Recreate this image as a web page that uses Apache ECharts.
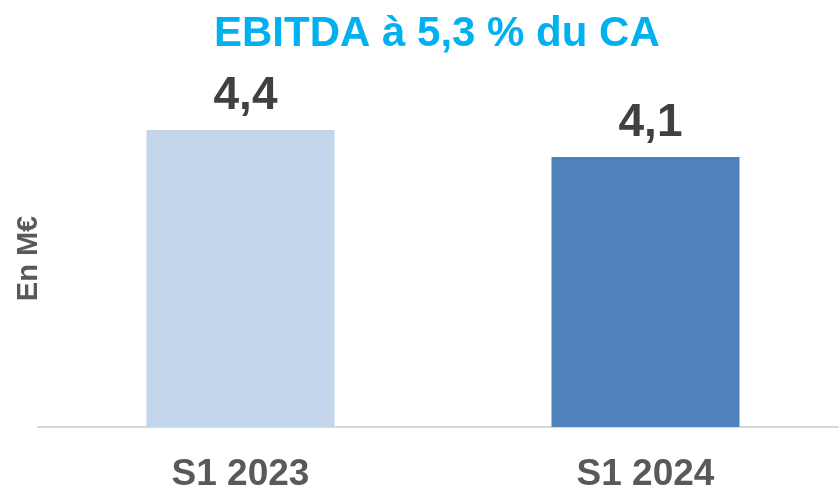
<!DOCTYPE html>
<html>
<head>
<meta charset="utf-8">
<title>EBITDA</title>
<script src="https://cdn.jsdelivr.net/npm/echarts@6/dist/echarts.min.js"></script>
<style>
  html, body { margin: 0; padding: 0; background: #fff; }
  #myChart { width: 839px; height: 487px; }
</style>
</head>
<body>
<div id="myChart"></div>
<script>
// data
const categories = ['S1 2023', 'S1 2024']
const ebitdaValues = [4.4, 4.1]
const barColors = ['#C3D5EA', '#4F81BD']

let myChart = echarts.init(document.getElementById('myChart'))
let options = {
  animation: false,
  title: {
    text: 'EBITDA à 5,3 % du CA',
    left: 209,
    top: 8,
    textStyle: {
      fontFamily: 'Liberation Sans',
      fontSize: 42,
      fontWeight: 'bold',
      color: '#00B0F0'
    }
  },
  grid: {
    left: 38,
    right: -9,
    top: 76,
    bottom: 60,
    containLabel: false,
    outerBoundsMode: 'none'
  },
  xAxis: {
    type: 'category',
    data: categories,
    axisTick: { show: false },
    axisLine: {
      lineStyle: { color: '#D9D9D9', width: 2 }
    },
    axisLabel: {
      margin: 29,
      fontFamily: 'Liberation Sans',
      fontSize: 37,
      fontWeight: 'bold',
      color: '#595959'
    }
  },
  yAxis: {
    type: 'value',
    // axis is cut, bars don't start at zero in the original
    min: 1.1,
    max: 5.0,
    name: 'En M€',
    nameLocation: 'middle',
    nameRotate: 90,
    nameGap: -5,
    nameTextStyle: {
      fontFamily: 'Liberation Sans',
      fontSize: 29,
      fontWeight: 'bold',
      color: '#595959',
      padding: [0, 14, 0, 0]
    },
    axisLine: { show: false },
    axisTick: { show: false },
    axisLabel: { show: false },
    splitLine: { show: false }
  },
  series: [{
    type: 'bar',
    barWidth: 188,
    data: ebitdaValues.map((v, i) => ({
      value: v,
      itemStyle: { color: barColors[i] }
    })),
    label: {
      show: true,
      position: 'top',
      distance: 11,
      offset: [5, 0],
      fontFamily: 'Liberation Sans',
      fontSize: 46,
      fontWeight: 'bold',
      color: '#404040',
      formatter: function (p) {
        return p.value.toFixed(1).replace('.', ',')
      }
    }
  }]
}
myChart.setOption(options)
</script>
</body>
</html>
